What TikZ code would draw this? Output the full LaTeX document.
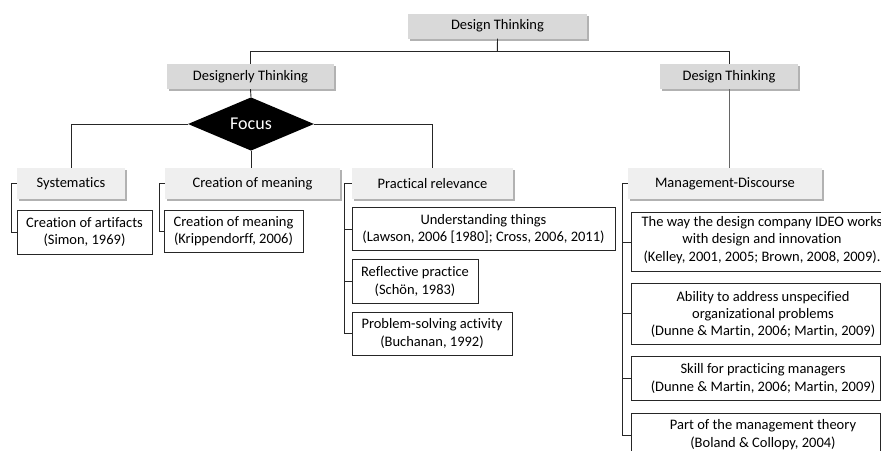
\documentclass[tikz,border=0pt]{standalone}
\usepackage{fontspec}
\setmainfont{Carlito}[Ligatures={NoCommon}]
\usetikzlibrary{shapes.geometric,shadows}
\definecolor{boxgray}{HTML}{D9D9D9}
\definecolor{lightgray}{HTML}{EFEFEF}
\tikzset{
  gbox/.style={fill=boxgray, inner sep=0pt, minimum height=25, font=\fontsize{14.5}{17.4}\selectfont,
    drop shadow={shadow xshift=2pt, shadow yshift=-2pt, fill=black, opacity=0.3}},
  lbox/.style={fill=lightgray, inner sep=0pt, minimum height=31, font=\fontsize{14.5}{17.4}\selectfont,
    drop shadow={shadow xshift=2pt, shadow yshift=-2pt, fill=black, opacity=0.3}},
  wbox/.style={draw=black!85, line width=0.9pt, fill=white, inner sep=0pt, align=center,
    font=\fontsize{14.5}{17.4}\selectfont},
  txt/.style={inner sep=0pt, align=center, font=\fontsize{14.5}{17.4}\selectfont},
  conn/.style={draw=black!85, line width=0.9pt},
  gconn/.style={draw=black!60, line width=0.9pt},
}
\begin{document}
\begin{tikzpicture}[x=1pt,y=-1pt]
\useasboundingbox (0,0) rectangle (881,450);
\clip (0,0) rectangle (881,450);
% level 1
\node[gbox, minimum width=179] (top) at (497.5,26) {Design Thinking};
% level 2
\node[gbox, minimum width=167] (dl) at (250.5,76.5) {Designerly Thinking};
\node[gbox, minimum width=138] (dr) at (729,76.5) {Design Thinking};
% focus
\node[diamond, fill=black, inner sep=0pt, minimum width=126, minimum height=52,
  text=white, font=\fontsize{18}{20}\selectfont] (focus) at (251,124) {Focus};
% level 3
\node[lbox, minimum width=108] (sys) at (71,183.5) {Systematics};
\node[lbox, minimum width=175] (com) at (252.5,183.5) {Creation of meaning};
\node[lbox, minimum width=161] (pr) at (432.5,183.5) {Practical relevance};
\node[lbox, minimum width=194] (md) at (725,183.5) {Management-Discourse};
% leaves
\node[wbox, minimum width=135, minimum height=44] (art) at (84.5,232) {Creation of artifacts\\(Simon, 1969)};
\node[wbox, minimum width=139, minimum height=42] (krip) at (233.5,231) {Creation of meaning\\(Krippendorff, 2006)};
\node[wbox, minimum width=263, minimum height=43] (und) at (483.5,229) {Understanding things\\(Lawson, 2006 [1980]; Cross, 2006, 2011)};
\node[wbox, minimum width=126, minimum height=44] (refl) at (415,281.5) {Reflective practice\\(Schön, 1983)};
\node[wbox, minimum width=160, minimum height=43] (prob) at (432,333.5) {Problem-solving activity\\(Buchanan, 1992)};
% right side leaves
\node[wbox, minimum width=270, minimum height=59.5] (ideo) at (766,242) {};
\node[txt] (ideot) at (762,240) {The way the design company IDEO works\\with design and innovation\\(Kelley, 2001, 2005; Brown, 2008, 2009).};
\node[wbox, minimum width=249, minimum height=61] (abil) at (755.5,313.5) {};
\node[txt] (abilt) at (763,314.5) {Ability to address unspecified\\organizational problems\\(Dunne \& Martin, 2006; Martin, 2009)};
\node[wbox, minimum width=249, minimum height=44] (skill) at (755.5,378) {};
\node[txt] (skillt) at (763,378.5) {Skill for practicing managers\\(Dunne \& Martin, 2006; Martin, 2009)};
\node[wbox, minimum width=249, minimum height=44] (part) at (755.5,435) {};
\node[txt] (partt) at (763,434.5) {Part of the management theory\\(Boland \& Collopy, 2004)};
% connectors
\coordinate (h1) at (497.3,51.3);
\draw[conn] (top.south) -- (h1);
\draw[conn] (h1) -| (dl.north);
\draw[conn] (h1) -| (dr.north);
\draw[conn] (dl.south) -- (focus.north);
\draw[conn] (focus.west) -| (sys.north);
\draw[conn] (focus.east) -| (pr.north);
\draw[conn] (focus.south) -- (focus.south |- com.north);
\draw[gconn] (dr.south) -- (dr.south |- md.north);
% brackets
\coordinate (b1) at (11.7,0);
\coordinate (b2) at (159.3,0);
\coordinate (b3) at (344.3,0);
\coordinate (b4) at (622,0);
\draw[conn] (sys.west) -- (sys.west -| b1) |- (art.west);
\draw[conn] (com.west) -- (com.west -| b2) |- (krip.west);
\draw[conn] (pr.west) -- (pr.west -| b3) |- (prob.west);
\draw[conn] (und.west) -- (und.west -| b3);
\draw[conn] (refl.west) -- (refl.west -| b3);
\draw[conn] (md.west) -- (md.west -| b4) |- (part.west);
\draw[conn] (ideo.west) -- (ideo.west -| b4);
\draw[conn] (abil.west) -- (abil.west -| b4);
\draw[conn] (skill.west) -- (skill.west -| b4);
\end{tikzpicture}
\end{document}
